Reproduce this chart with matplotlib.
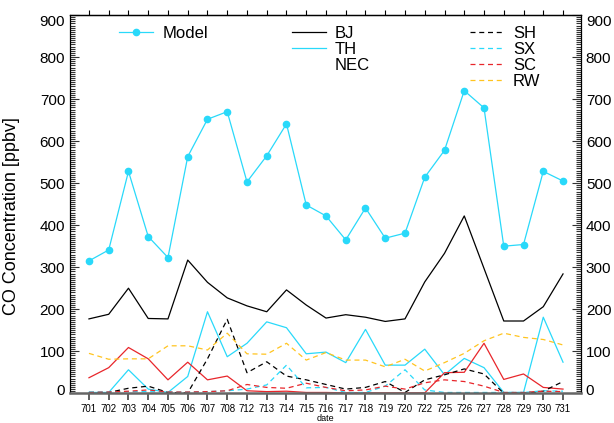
import numpy as np
import matplotlib
matplotlib.use('Agg')
import matplotlib.pyplot as plt
import matplotlib.transforms as mtransforms
from matplotlib.lines import Line2D
from matplotlib.ticker import MultipleLocator

plt.rcParams['font.family'] = ['Liberation Sans', 'DejaVu Sans']

# fechas (mes 7, dia)
fechas = ['701', '702', '703', '704', '705', '706', '707', '708', '712', '713',
          '714', '715', '716', '717', '718', '719', '720', '722', '725', '726',
          '727', '728', '729', '730', '731']

modelo = [315, 341, 528, 373, 323, 563, 652, 670, 503, 565, 641, 448, 422,
          365, 441, 369, 381, 514, 578, 720, 679, 350, 354, 528, 505]
bj = [177, 188, 250, 178, 177, 317, 264, 227, 208, 194, 246, 210, 179,
      187, 181, 171, 177, 265, 333, 422, 297, 172, 172, 206, 284]
th = [2, 2, 56, 10, 2, 40, 194, 87, 119, 170, 156, 94, 98,
      73, 152, 67, 67, 105, 44, 83, 61, 2, 2, 181, 74]
nec = [37, 61, 109, 82, 32, 74, 32, 41, 6, 4, 5, 2, 2,
       1, 1, 1, 1, 1, 49, 50, 119, 33, 46, 14, 10]
sh = [2, 2, 12, 17, 2, 1, 82, 176, 49, 75, 41, 32, 21,
      10, 14, 28, 2, 32, 44, 58, 46, 0, 0, 5, 28]
sx = [3, 3, 4, 4, 3, 3, 4, 6, 10, 20, 67, 13, 14,
      2, 2, 17, 56, 8, 2, 2, 2, 2, 2, 6, 5]
sc = [2, 3, 5, 8, 3, 3, 4, 6, 21, 14, 12, 24, 14,
      6, 8, 17, 10, 25, 32, 28, 17, 2, 2, 5, 4]
rw = [95, 81, 82, 82, 113, 113, 103, 143, 94, 93, 119, 79, 97,
      79, 79, 63, 81, 53, 73, 95, 125, 143, 133, 128, 115]

CIAN = '#29d9fa'
ROJO = '#e8262b'
AMARILLO = '#ffc41f'

x = np.arange(len(fechas))

fig = plt.figure(figsize=(6.14, 4.23), dpi=100)
ax = fig.add_axes([70/614, 1 - 393.3/423, 511/614, 378.3/423])

ax.plot(x, bj, color='black', lw=0.9)
ax.plot(x, th, color=CIAN, lw=0.9)
ax.plot(x, nec, color=ROJO, lw=0.9)
ax.plot(x, sh, color='black', lw=0.9, dashes=(4, 3))
ax.plot(x, sx, color=CIAN, lw=0.9, dashes=(4, 3))
ax.plot(x, sc, color=ROJO, lw=0.9, dashes=(4, 3))
ax.plot(x, rw, color=AMARILLO, lw=0.9, dashes=(4, 3))
ax.plot(x, modelo, color=CIAN, lw=0.9, marker='o', ms=4.5, mec=CIAN, mfc=CIAN)

ax.set_xlim(-0.96, 24.91)
ax.set_ylim(0, 900)

# ejes
ax.set_xticks(x)
ax.set_xticklabels(fechas, fontsize=7)
ax.tick_params(axis='x', direction='out', length=5, width=1.2, color='#444444', pad=3)
ax.yaxis.set_major_locator(MultipleLocator(100))
ax.yaxis.set_minor_locator(MultipleLocator(5))
ax.tick_params(axis='y', which='major', direction='in', length=6.5, width=0.8,
               left=True, right=True, labelleft=True, labelright=True,
               labelsize=11, pad=3.5, color='#333333')
ax.tick_params(axis='y', which='minor', direction='in', length=3.6, width=0.8,
               left=True, right=True, color='#333333')
for s in ['left', 'right', 'top']:
    ax.spines[s].set_linewidth(0.9)
ax.spines['bottom'].set_linewidth(1.8)
ax.spines['bottom'].set_color('#666666')

sec = ax.secondary_xaxis('top')
sec.set_xticks(x)
sec.set_xticklabels([])
sec.tick_params(direction='out', length=3.6, width=0.8)
sec.spines['top'].set_linewidth(0.9)

# etiquetas 0 y 900 desplazadas hacia dentro
fig.canvas.draw()
arriba = mtransforms.ScaledTranslation(0, 4/100, fig.dpi_scale_trans)
abajo = mtransforms.ScaledTranslation(0, -6/100, fig.dpi_scale_trans)
for t in ax.yaxis.get_major_ticks():
    v = t.get_loc()
    if v == 0:
        for lab in (t.label1, t.label2):
            lab.set_transform(lab.get_transform() + arriba)
    elif v == 900:
        for lab in (t.label1, t.label2):
            lab.set_transform(lab.get_transform() + abajo)

ax.set_ylabel('CO Concentration [ppbv]', fontsize=13)
ax.yaxis.set_label_coords(-50/511, (393.3 - 216)/378.3)
ax.set_xlabel('date', fontsize=6.5, labelpad=-0.5)

# leyendas
nada = Line2D([], [], color='none')
h1 = [Line2D([], [], color=CIAN, lw=0.9, marker='o', ms=4.5, mec=CIAN, mfc=CIAN)]
h2 = [Line2D([], [], color='black', lw=0.9), Line2D([], [], color=CIAN, lw=0.9), nada]
h3 = [Line2D([], [], color=c, lw=0.9, dashes=(4, 3)) for c in ['black', CIAN, ROJO, AMARILLO]]

comun = dict(frameon=False, fontsize=12, handlelength=2.05, borderpad=0,
             borderaxespad=0, labelspacing=0.07, loc='upper left',
             bbox_transform=fig.transFigure)
top = 1 - 25.5/423
leg1 = ax.legend(h1, ['Model'], bbox_to_anchor=(119/614, top),
                 handletextpad=0.55, **comun)
ax.add_artist(leg1)
leg2 = ax.legend(h2, ['BJ', 'TH', 'NEC'], bbox_to_anchor=(291.7/614, top),
                 handletextpad=0.5, **comun)
ax.add_artist(leg2)
ax.legend(h3, ['SH', 'SX', 'SC', 'RW'], bbox_to_anchor=(470/614, top),
          handletextpad=0.52, **comun)

fig.savefig('out.png', dpi=100)
